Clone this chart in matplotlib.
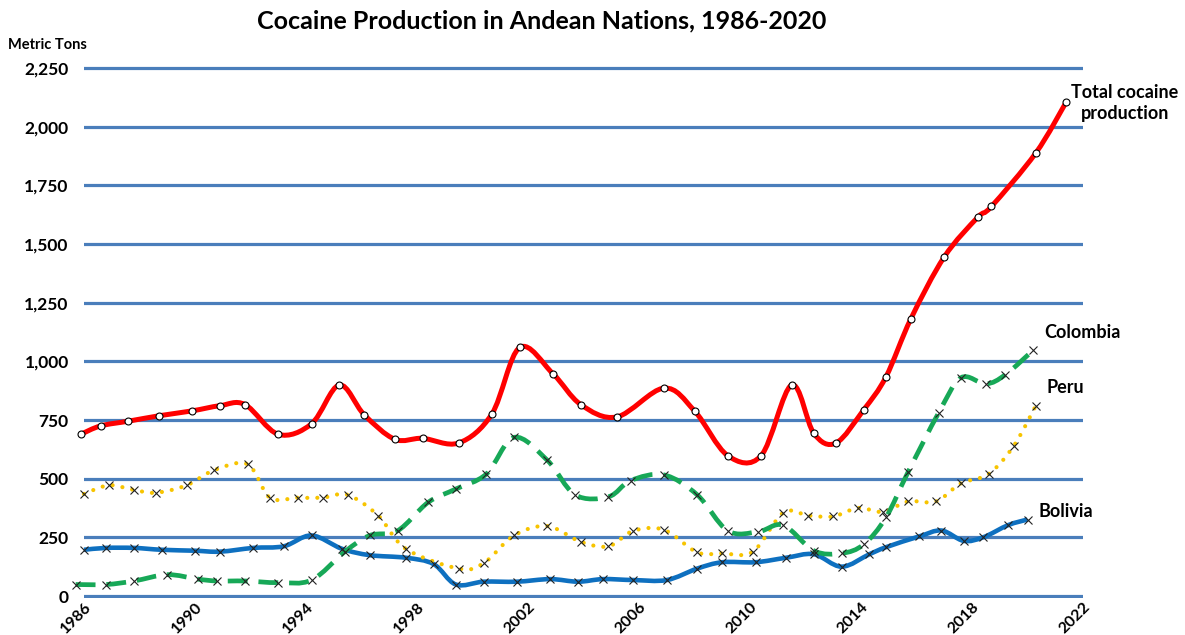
import numpy as np
import matplotlib.pyplot as plt
from matplotlib.path import Path
from matplotlib.patches import PathPatch

plt.rcParams['font.family'] = ['Lato', 'DejaVu Sans']
plt.rcParams['font.weight'] = 'bold'

# metric tons, by (decimal) year
total_years = [1985.9, 1986.6, 1987.6, 1988.7, 1989.9, 1990.9, 1991.8, 1993.0, 1994.2, 1995.2,
               1996.1, 1997.2, 1998.2, 1999.5, 2000.7, 2001.7, 2002.9, 2003.9, 2005.2, 2006.9,
               2008.0, 2009.2, 2010.4, 2011.5, 2012.3, 2013.1, 2014.1, 2014.9, 2015.8, 2017.0,
               2018.2, 2018.7, 2020.3, 2021.4]
total_tons = [690, 725, 745, 768, 789, 811, 816, 689, 734, 899,
              772, 668, 672, 652, 776, 1059, 947, 816, 763, 886,
              789, 598, 598, 899, 693, 652, 794, 934, 1182, 1445,
              1613, 1660, 1888, 2106]

colombia_years = [1985.7, 1986.8, 1987.8, 1989.0, 1990.1, 1990.8, 1991.8, 1993.0, 1994.2, 1995.4,
                  1996.3, 1997.3, 1998.4, 1999.4, 2000.5, 2001.5, 2002.7, 2003.7, 2004.9, 2005.7,
                  2006.9, 2008.1, 2009.2, 2010.3, 2011.2, 2012.3, 2013.3, 2014.1, 2014.9, 2015.7,
                  2016.8, 2017.6, 2018.5, 2019.2, 2020.2]
colombia_tons = [49, 49, 64, 91, 72, 64, 64, 57, 68, 189,
                 258, 278, 399, 456, 520, 676, 578, 431, 423, 492,
                 516, 431, 278, 274, 302, 193, 182, 220, 335, 529,
                 781, 930, 904, 943, 1047]

peru_years = [1986.0, 1986.9, 1987.8, 1988.6, 1989.7, 1990.7, 1991.9, 1992.7, 1993.7, 1994.6,
              1995.5, 1996.6, 1997.6, 1999.5, 2000.4, 2001.5, 2002.7, 2003.9, 2004.9, 2005.8,
              2006.9, 2008.1, 2009.0, 2010.1, 2011.2, 2012.1, 2013.0, 2013.9, 2014.8, 2015.7,
              2016.7, 2017.6, 2018.6, 2019.5, 2020.3]
peru_tons = [435, 472, 452, 440, 472, 537, 561, 419, 419, 419,
             431, 343, 201, 117, 140, 258, 298, 231, 212, 278,
             282, 186, 182, 189, 355, 343, 339, 375, 359, 403,
             403, 480, 520, 639, 811]

bolivia_years = [1986.0, 1986.8, 1987.8, 1988.8, 1990.0, 1990.9, 1992.1, 1993.2, 1994.2, 1995.3,
                 1996.3, 1997.6, 1998.6, 1999.4, 2000.4, 2001.6, 2002.8, 2003.8, 2004.7, 2005.8,
                 2007.0, 2008.1, 2009.0, 2010.2, 2011.3, 2012.3, 2013.3, 2014.3, 2014.9, 2016.1,
                 2016.9, 2017.7, 2018.4, 2019.3, 2020.0]
bolivia_tons = [197, 205, 205, 197, 193, 189, 205, 212, 258, 201,
                174, 163, 136, 49, 61, 61, 72, 61, 72, 68,
                68, 117, 144, 144, 163, 178, 125, 178, 208, 254,
                279, 235, 250, 302, 326]

year_ticks = [1986, 1990, 1994, 1998, 2002, 2006, 2010, 2014, 2018, 2022]
ton_ticks = [0, 250, 500, 750, 1000, 1250, 1500, 1750, 2000, 2250]


#Smooth curve through the points (Catmull-Rom as cubic Bezier segments)
def smooth_path(xs, ys):
    pts = np.column_stack([xs, ys]).astype(float)
    p = np.vstack([pts[0], pts, pts[-1]])
    verts = [pts[0]]
    codes = [Path.MOVETO]
    for i in range(1, len(p) - 2):
        c1 = p[i] + (p[i + 1] - p[i - 1]) / 6
        c2 = p[i + 1] - (p[i + 2] - p[i]) / 6
        verts += [c1, c2, p[i + 1]]
        codes += [Path.CURVE4] * 3
    return Path(verts, codes)


fig = plt.figure(figsize=(11.85, 6.35), dpi=100)
ax = fig.add_axes([84 / 1185, 0.0577, 999 / 1185, 0.8389])

ax.set_xlim(1986, 2022)
ax.set_ylim(-10, 2260)
for t in ton_ticks:
    ax.axhline(t, color='#4A7EBB', lw=2.3, zorder=1)

series = [
    (bolivia_years, bolivia_tons, '#0E70C0', '-', 3.3, 'x', 2),
    (peru_years, peru_tons, '#F7C400', (0, (0.01, 2.4)), 3.0, 'x', 3),
    (colombia_years, colombia_tons, '#17A857', (0, (4.2, 2.3)), 3.4, 'x', 4),
    (total_years, total_tons, '#FF0000', '-', 3.6, 'o', 5),
]
for xs, ys, col, ls, lw, mk, z in series:
    patch = PathPatch(smooth_path(xs, ys), fill=False, edgecolor=col, lw=lw,
                      linestyle=ls, capstyle='round' if ls != '-' and ls[1][0] < 1 else 'butt',
                      transform=ax.transData, zorder=z, clip_on=False)
    ax.add_patch(patch)
    if mk == 'o':
        ax.plot(xs, ys, ls='none', marker='o', ms=5, mfc='white', mec='black', mew=0.8,
                zorder=6, clip_on=False)
    else:
        ax.plot(xs, ys, ls='none', marker='x', ms=5.5, mec='#222222', mew=0.8,
                zorder=6, clip_on=False)

ax.set_xticks(year_ticks)
ax.set_xticklabels([str(y) for y in year_ticks], rotation=45, ha='right', va='top',
                   rotation_mode='anchor', fontsize=11.5, fontweight='bold')
ax.set_yticks(ton_ticks)
ax.set_yticklabels([f'{t:,}' for t in ton_ticks], fontsize=12.5, fontweight='bold')
ax.tick_params(axis='both', length=0)
ax.tick_params(axis='y', pad=11)
ax.tick_params(axis='x', pad=1)
for s in ax.spines.values():
    s.set_visible(False)

fig.text(542 / 1185, 1 - 21 / 635, 'Cocaine Production in Andean Nations, 1986-2020',
         ha='center', va='center', fontsize=18, fontweight='bold')
fig.text(8 / 1185, 1 - 45 / 635, 'Metric Tons', ha='left', va='center', fontsize=10.5,
         fontweight='bold')

ax.text(2023.5, 2100, 'Total cocaine\nproduction', ha='center', va='center', fontsize=13,
        fontweight='bold', linespacing=1.3, clip_on=False)
ax.text(2020.6, 1121, 'Colombia', ha='left', va='center', fontsize=13, fontweight='bold')
ax.text(2020.7, 890, 'Peru', ha='left', va='center', fontsize=13, fontweight='bold')
ax.text(2020.4, 362, 'Bolivia', ha='left', va='center', fontsize=13, fontweight='bold')

fig.savefig('out.png', dpi=100)
